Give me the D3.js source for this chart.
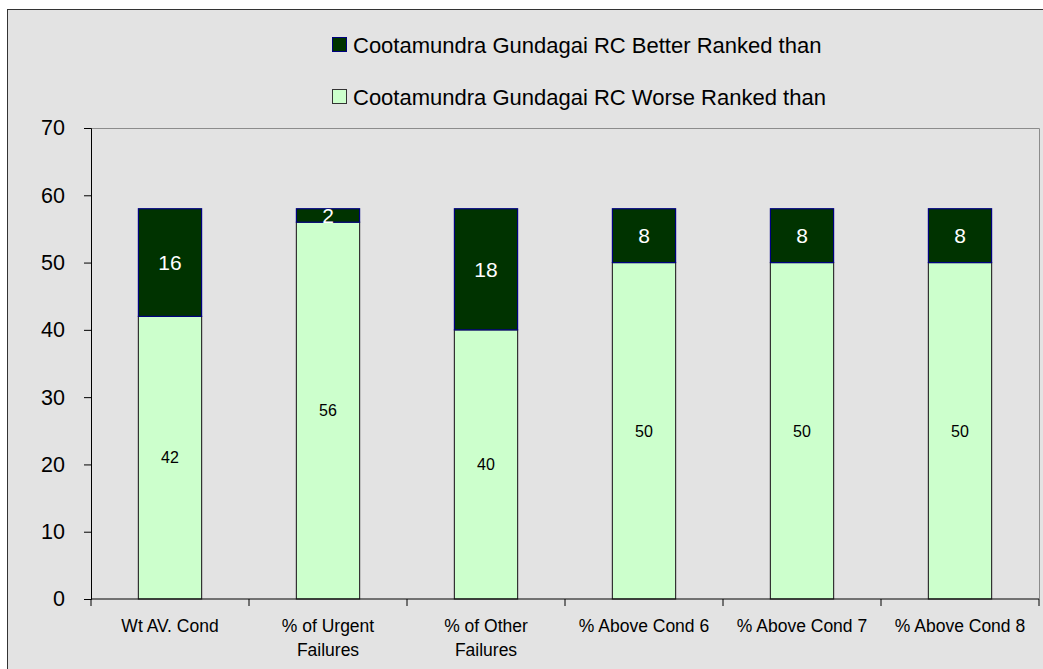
<!DOCTYPE html>
<html>
<head>
<meta charset="utf-8">
<script src="https://cdn.jsdelivr.net/npm/d3@7"></script>
<style>
  body { margin: 0; background: #fff; }
  svg { display: block; font-family: "Liberation Sans", Arial, sans-serif; }
</style>
</head>
<body>
<svg id="chart" width="1043" height="669"></svg>
<script>
// chart values
const categories = ["Wt AV. Cond", "% of Urgent Failures", "% of Other Failures", "% Above Cond 6", "% Above Cond 7", "% Above Cond 8"];
const worse = [42, 56, 40, 50, 50, 50];
const better = [16, 2, 18, 8, 8, 8];
const yTicks = [0, 10, 20, 30, 40, 50, 60, 70];
const seriesNames = ["Cootamundra Gundagai RC Better Ranked than", "Cootamundra Gundagai RC Worse Ranked than"];

const svg = d3.select("#chart");
const W = 1043, H = 669;
const mLeft = 91, mRight = 1039, mTop = 128, mBottom = 599;

// outer frame
svg.append("rect").attr("x", 7.5).attr("y", 9.5).attr("width", W).attr("height", H)
  .attr("fill", "#e3e3e3").attr("stroke", "#333").attr("stroke-width", 1);

const x = d3.scaleBand().domain(categories).range([mLeft, mRight]).paddingInner(0.6).paddingOuter(0.3);
const y = d3.scaleLinear().domain([0, 70]).range([mBottom, mTop]);

// plot area border
svg.append("path")
  .attr("d", `M${mLeft},${mTop + 0.5}H${mRight + 0.5}V${mBottom}`)
  .attr("fill", "none").attr("stroke", "#8c8c8c");

// stacked bars
const rows = categories.map((c, i) => ({ cat: c, worse: worse[i], better: better[i] }));
const stack = d3.stack().keys(["worse", "better"])(rows);
const fills = { worse: "#ccffcc", better: "#003300" };
const strokes = { worse: "#333", better: "#000080" };

stack.forEach(layer => {
  const g = svg.append("g");
  g.selectAll("rect").data(layer).join("rect")
    .attr("x", d => x(d.data.cat))
    .attr("y", d => y(d[1]))
    .attr("width", x.bandwidth())
    .attr("height", d => y(d[0]) - y(d[1]))
    .attr("fill", fills[layer.key])
    .attr("stroke", strokes[layer.key])
    .attr("stroke-width", 1.2);
  g.selectAll("text").data(layer).join("text")
    .attr("x", d => x(d.data.cat) + x.bandwidth() / 2)
    .attr("y", d => y((d[0] + d[1]) / 2))
    .attr("dy", "0.36em")
    .attr("text-anchor", "middle")
    .attr("font-size", layer.key === "better" ? 21 : 16)
    .attr("fill", layer.key === "better" ? "#fff" : "#000")
    .text(d => d[1] - d[0]);
});

// y axis
const yAxis = svg.append("g").attr("transform", `translate(${mLeft},0)`)
  .call(d3.axisLeft(y).tickValues(yTicks).tickSize(7).tickPadding(19).tickFormat(d3.format("d")));
yAxis.select(".domain").attr("stroke", "#000");
yAxis.selectAll("line").attr("stroke", "#000");
yAxis.selectAll("text").attr("font-size", 21.5).attr("font-family", "Liberation Sans, Arial, sans-serif").attr("fill", "#000");

// x axis
const xEdge = d3.scaleLinear().domain([0, categories.length]).range([mLeft, mRight]);
const xAxis = svg.append("g").attr("transform", `translate(0,${mBottom})`);
xAxis.append("line").attr("x1", mLeft).attr("x2", mRight).attr("stroke", "#000");
xAxis.selectAll(".tk").data(d3.range(categories.length + 1)).join("line")
  .attr("x1", d => xEdge(d)).attr("x2", d => xEdge(d)).attr("y1", 0).attr("y2", 7)
  .attr("stroke", "#000");

const wrapped = {
  "% of Urgent Failures": ["% of Urgent", "Failures"],
  "% of Other Failures": ["% of Other", "Failures"]
};
categories.forEach(c => {
  const lines = wrapped[c] || [c];
  const t = xAxis.append("text")
    .attr("x", x(c) + x.bandwidth() / 2)
    .attr("y", 33)
    .attr("text-anchor", "middle")
    .attr("font-size", 17.5)
    .attr("fill", "#000");
  lines.forEach((l, i) => t.append("tspan").attr("x", x(c) + x.bandwidth() / 2).attr("dy", i ? 24 : 0).text(l));
});

// legend
const legend = svg.append("g").attr("transform", "translate(332,0)");
const legendY = [45, 97];
["better", "worse"].forEach((k, i) => {
  legend.append("rect").attr("x", 0.5).attr("y", legendY[i] - 7.5).attr("width", 14).attr("height", 14)
    .attr("fill", fills[k]).attr("stroke", strokes[k]);
  legend.append("text").attr("x", 21).attr("y", legendY[i]).attr("dy", "0.36em")
    .attr("font-size", 22).attr("fill", "#000").text(seriesNames[i]);
});
</script>
</body>
</html>
